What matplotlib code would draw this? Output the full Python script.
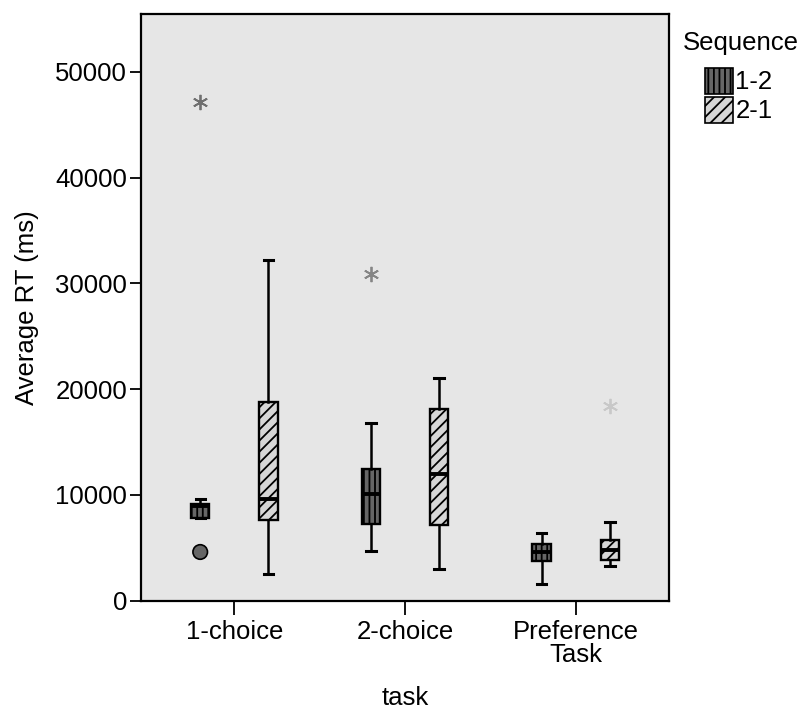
import matplotlib
matplotlib.use('Agg')
import matplotlib.pyplot as plt
from matplotlib.patches import Patch

plt.rcParams['font.family'] = ['Liberation Sans', 'DejaVu Sans']
plt.rcParams['hatch.linewidth'] = 1.3

# data (ms)
tasks = ['1-choice', '2-choice', 'Preference\nTask']
sequences = ['1-2', '2-1']
whislo = {'1-2': [7830, 4680, 1590], '2-1': [2530, 2950, 3230]}
q1 = {'1-2': [7830, 7200, 3740], '2-1': [7610, 7140, 3800]}
med = {'1-2': [8940, 10070, 4560], '2-1': [9570, 11930, 4750]}
q3 = {'1-2': [9150, 12430, 5370], '2-1': [18770, 18080, 5690]}
whishi = {'1-2': [9630, 16760, 6380], '2-1': [32200, 21070, 7420]}
# (task index, value, kind)
outliers = {'1-2': [(0, 47100, 'extreme'), (0, 4590, 'outlier'), (1, 30870, 'extreme')],
            '2-1': [(2, 18420, 'extreme')]}
star_colors = {(0, '1-2'): '#707070', (1, '1-2'): '#858585', (2, '2-1'): '#c8c8c8'}

fills = {'1-2': '#666666', '2-1': '#d6d6d6'}
hatches = {'1-2': '|||', '2-1': '///'}
offsets = {'1-2': -0.2, '2-1': 0.2}

fig = plt.figure(figsize=(8.02, 7.09), dpi=100)
ax = fig.add_axes([0.1758, 0.153, 0.6584, 0.827])
ax.set_facecolor('#e6e6e6')

for seq in sequences:
    stats = []
    for i in range(len(tasks)):
        stats.append({'whislo': whislo[seq][i], 'q1': q1[seq][i], 'med': med[seq][i],
                      'q3': q3[seq][i], 'whishi': whishi[seq][i], 'fliers': []})
    pos = [i + offsets[seq] for i in range(len(tasks))]
    bp = ax.bxp(stats, positions=pos, widths=0.107, patch_artist=True, showfliers=False,
                boxprops=dict(facecolor=fills[seq], edgecolor='black', linewidth=1.7),
                medianprops=dict(color='black', linewidth=2.8),
                whiskerprops=dict(color='black', linewidth=1.8),
                capprops=dict(color='black', linewidth=2.2), capwidths=0.055)
    for box in bp['boxes']:
        box.set_hatch(hatches[seq])
    for i, val, kind in outliers[seq]:
        x = i + offsets[seq]
        if kind == 'extreme':
            ax.plot(x, val, marker=(6, 2, 0), markersize=11, markeredgewidth=1.3,
                    color=star_colors[(i, seq)], linestyle='none')
        else:
            ax.scatter([x], [val], s=110, facecolor=fills[seq], edgecolor='black',
                       linewidth=1.2, hatch='|', zorder=3)

ax.set_xlim(-0.547, 2.547)
ax.set_ylim(0, 55450)
ax.set_xticks(range(len(tasks)))
ax.set_xticklabels(tasks, fontsize=18.5, linespacing=0.95)
ax.set_yticks([0, 10000, 20000, 30000, 40000, 50000])
ax.tick_params(axis='y', labelsize=18.5, length=8, width=1.3, pad=2)
ax.tick_params(axis='x', length=10, width=1.3, pad=4)
for s in ax.spines.values():
    s.set_linewidth(1.6)

ax.set_xlabel('task', fontsize=18.5, labelpad=14)
ax.set_ylabel('Average RT (ms)', fontsize=18.5, labelpad=12)

fig.text(683 / 802, 1 - 43 / 709, 'Sequence', fontsize=18.5, ha='left', va='center')
handles = [Patch(facecolor=fills[s], edgecolor='black', hatch=hatches[s], linewidth=1.2, label=s)
           for s in sequences]
leg = ax.legend(handles=handles, loc='upper left', bbox_to_anchor=(705 / 802, 1 - 68 / 709),
                bbox_transform=fig.transFigure, frameon=False, fontsize=18.5,
                handlelength=1.1, handleheight=1.15, handletextpad=0.08, labelspacing=0.1,
                borderaxespad=0, borderpad=0)

fig.savefig('out.png', dpi=100)
